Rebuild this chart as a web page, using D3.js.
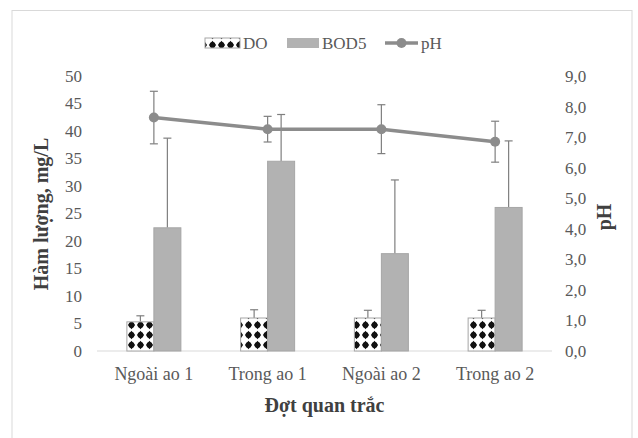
<!DOCTYPE html>
<html>
<head>
<meta charset="utf-8">
<script src="https://cdn.jsdelivr.net/npm/d3@7"></script>
<style>
  body { margin: 0; background: #fff; }
  svg { display: block; font-family: "Liberation Serif", "Times New Roman", serif; }
</style>
</head>
<body>
<svg id="chart" width="638" height="438"></svg>
<script>
const categories = ['Ngoài ao 1', 'Trong ao 1', 'Ngoài ao 2', 'Trong ao 2'];
const doValues = [5.3, 6.0, 6.0, 6.0];
const doErr = [1.1, 1.5, 1.4, 1.4];
const bodValues = [22.4, 34.5, 17.7, 26.1];
const bodErr = [16.3, 8.5, 13.4, 12.1];
const phValues = [7.64, 7.26, 7.26, 6.85];
const phErr = [0.86, 0.42, 0.80, 0.67];
const leftTicks = [0, 5, 10, 15, 20, 25, 30, 35, 40, 45, 50];
const rightTicks = [0, 1, 2, 3, 4, 5, 6, 7, 8, 9];

const svg = d3.select('#chart');
const margin = { top: 76, right: 86, bottom: 87, left: 97 };

const xScale = d3.scaleBand()
    .domain(categories)
    .range([margin.left, 552]);

const inner = d3.scaleBand()
    .domain(['DO', 'BOD5'])
    .range([-27, 27]);

const yLeft = d3.scaleLinear().domain([0, 50]).range([351, margin.top]);
const yRight = d3.scaleLinear().domain([0, 9]).range([351, margin.top]);

// pattern for DO bars
const defs = svg.append('defs');
const pat = defs.append('pattern')
    .attr('id', 'doPat')
    .attr('patternUnits', 'userSpaceOnUse')
    .attr('x', 1)
    .attr('y', 0)
    .attr('width', 9)
    .attr('height', 10);
pat.append('rect').attr('width', 9).attr('height', 10).attr('fill', '#fff');
pat.append('path')
    .attr('d', 'M4.5,0.8 L8,5 L4.5,9.2 L1,5 Z')
    .attr('fill', '#111');
pat.append('circle').attr('cx', 4.5).attr('cy', 5).attr('r', 2.9).attr('fill', '#111');

// outer frame
svg.append('rect')
    .attr('x', 12).attr('y', 10.5)
    .attr('width', 620).attr('height', 440)
    .attr('fill', 'none')
    .attr('stroke', '#d9d9d9')
    .attr('stroke-width', 1);

// left axis
svg.append('g')
    .selectAll('text')
    .data(leftTicks)
    .join('text')
    .attr('x', 82)
    .attr('y', d => yLeft(d))
    .attr('dy', '0.35em')
    .attr('text-anchor', 'end')
    .attr('font-size', 17)
    .attr('fill', '#595959')
    .text(d => d);

// right axis
svg.append('g')
    .selectAll('text')
    .data(rightTicks)
    .join('text')
    .attr('x', 565)
    .attr('y', d => yRight(d))
    .attr('dy', '0.35em')
    .attr('text-anchor', 'start')
    .attr('font-size', 17)
    .attr('fill', '#595959')
    .text(d => d3.format('.1f')(d).replace('.', ','));

// baseline
svg.append('line')
    .attr('x1', margin.left).attr('x2', 552)
    .attr('y1', yLeft(0)).attr('y2', yLeft(0))
    .attr('stroke', '#d9d9d9')
    .attr('stroke-width', 1);

// category labels
svg.append('g')
    .selectAll('text')
    .data(categories)
    .join('text')
    .attr('x', d => xScale(d) + xScale.bandwidth() / 2)
    .attr('y', 380)
    .attr('text-anchor', 'middle')
    .attr('font-size', 18)
    .attr('fill', '#595959')
    .text(d => d);

const rows = categories.map((c, i) => ({
    cat: c,
    DO: doValues[i], DOerr: doErr[i],
    BOD5: bodValues[i], BOD5err: bodErr[i],
    pH: phValues[i], pHerr: phErr[i]
}));

const cx = d => xScale(d.cat) + xScale.bandwidth() / 2;

// error bars for bars (drawn behind bars)
['DO', 'BOD5'].forEach(key => {
    const g = svg.append('g').attr('stroke', '#7f7f7f').attr('stroke-width', 1.2);
    g.selectAll('line.v')
        .data(rows)
        .join('line')
        .attr('x1', d => cx(d) + inner(key) + inner.bandwidth() / 2)
        .attr('x2', d => cx(d) + inner(key) + inner.bandwidth() / 2)
        .attr('y1', d => yLeft(d[key]))
        .attr('y2', d => yLeft(d[key] + d[key + 'err']));
    g.selectAll('line.h')
        .data(rows)
        .join('line')
        .attr('x1', d => cx(d) + inner(key) + inner.bandwidth() / 2 - 4)
        .attr('x2', d => cx(d) + inner(key) + inner.bandwidth() / 2 + 4)
        .attr('y1', d => yLeft(d[key] + d[key + 'err']))
        .attr('y2', d => yLeft(d[key] + d[key + 'err']));
});

// DO bars
svg.append('g')
    .selectAll('rect')
    .data(rows)
    .join('rect')
    .attr('x', d => cx(d) + inner('DO'))
    .attr('y', d => yLeft(d.DO))
    .attr('width', inner.bandwidth())
    .attr('height', d => yLeft(0) - yLeft(d.DO))
    .attr('fill', 'url(#doPat)')
    .attr('stroke', '#a6a6a6')
    .attr('stroke-width', 1);

// BOD5 bars
svg.append('g')
    .selectAll('rect')
    .data(rows)
    .join('rect')
    .attr('x', d => cx(d) + inner('BOD5'))
    .attr('y', d => yLeft(d.BOD5))
    .attr('width', inner.bandwidth())
    .attr('height', d => yLeft(0) - yLeft(d.BOD5))
    .attr('fill', '#b2b2b2')
    .attr('stroke', '#a6a6a6')
    .attr('stroke-width', 1);

// pH error bars
const pg = svg.append('g').attr('stroke', '#7f7f7f').attr('stroke-width', 1.2);
pg.selectAll('line.v')
    .data(rows)
    .join('line')
    .attr('x1', cx).attr('x2', cx)
    .attr('y1', d => yRight(d.pH - d.pHerr))
    .attr('y2', d => yRight(d.pH + d.pHerr));
[1, -1].forEach(s => {
    pg.selectAll('line.c' + s)
        .data(rows)
        .join('line')
        .attr('x1', d => cx(d) - 4).attr('x2', d => cx(d) + 4)
        .attr('y1', d => yRight(d.pH + s * d.pHerr))
        .attr('y2', d => yRight(d.pH + s * d.pHerr));
});

// pH line
svg.append('path')
    .datum(rows)
    .attr('fill', 'none')
    .attr('stroke', '#8c8c8c')
    .attr('stroke-width', 3.5)
    .attr('d', d3.line().x(cx).y(d => yRight(d.pH)));

svg.append('g')
    .selectAll('circle')
    .data(rows)
    .join('circle')
    .attr('cx', cx)
    .attr('cy', d => yRight(d.pH))
    .attr('r', 5)
    .attr('fill', '#8c8c8c');

// axis titles
svg.append('text')
    .attr('transform', 'translate(48, 214) rotate(-90)')
    .attr('text-anchor', 'middle')
    .attr('font-size', 20)
    .attr('font-weight', 'bold')
    .attr('fill', '#404040')
    .text('Hàm lượng, mg/L');

svg.append('text')
    .attr('transform', 'translate(611, 217) rotate(-90)')
    .attr('text-anchor', 'middle')
    .attr('font-size', 20)
    .attr('font-weight', 'bold')
    .attr('fill', '#404040')
    .text('pH');

svg.append('text')
    .attr('x', (margin.left + 552) / 2)
    .attr('y', 412)
    .attr('text-anchor', 'middle')
    .attr('font-size', 20)
    .attr('font-weight', 'bold')
    .attr('fill', '#404040')
    .text('Đợt quan trắc');

// legend
const legend = svg.append('g').attr('font-size', 17).attr('fill', '#595959');
legend.append('rect')
    .attr('x', 205).attr('y', 38).attr('width', 35).attr('height', 10)
    .attr('fill', 'url(#doPat)').attr('stroke', '#a6a6a6');
legend.append('text').attr('x', 243).attr('y', 49).text('DO');
legend.append('rect')
    .attr('x', 287).attr('y', 38).attr('width', 32).attr('height', 10)
    .attr('fill', '#b2b2b2');
legend.append('text').attr('x', 322).attr('y', 49).text('BOD5');
legend.append('line')
    .attr('x1', 385).attr('x2', 418).attr('y1', 43).attr('y2', 43)
    .attr('stroke', '#8c8c8c').attr('stroke-width', 3.5);
legend.append('circle').attr('cx', 401.5).attr('cy', 43).attr('r', 5).attr('fill', '#8c8c8c');
legend.append('text').attr('x', 421).attr('y', 49).text('pH');
</script>
</body>
</html>
